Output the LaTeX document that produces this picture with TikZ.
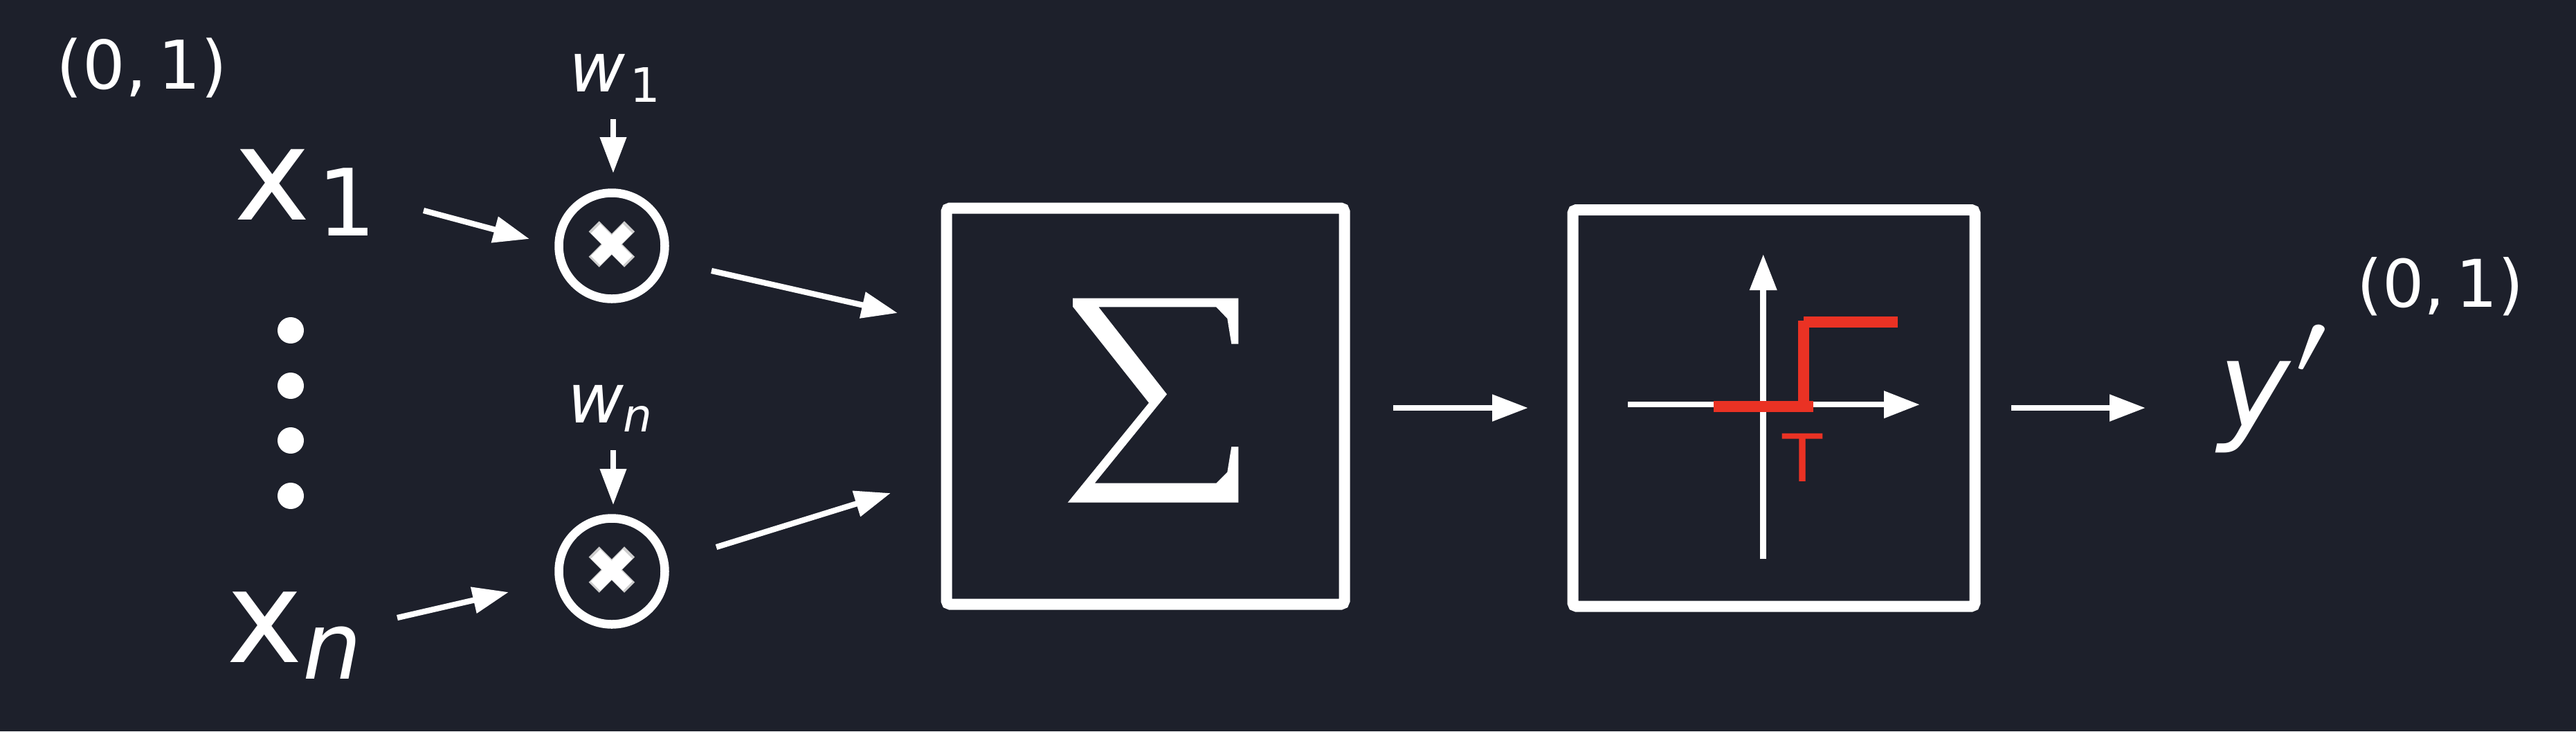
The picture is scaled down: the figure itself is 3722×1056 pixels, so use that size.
\documentclass[tikz,border=0pt]{standalone}
\usepackage{fontspec}
\setmainfont{DejaVu Sans}
\usepackage{graphicx}
\usetikzlibrary{arrows.meta}
\definecolor{bg}{RGB}{29,32,43}
\definecolor{stepred}{RGB}{234,50,36}
\definecolor{crossgray}{RGB}{205,205,205}
\begin{document}
\begin{tikzpicture}[x=0.2pt,y=-0.2pt,
  conn/.style={draw=white, line width=1.65pt, -{Triangle[length=10.4pt,width=7.4pt]}},
  axis/.style={draw=white, line width=1.7pt, -{Triangle[length=10.4pt,width=7.5pt]}},
  lbl/.style={text=white, inner sep=0pt, outer sep=0pt},
  mulnode/.style={circle, draw=white, line width=2.5pt, minimum size=30.6pt, inner sep=0pt},
  blockbox/.style={draw=white, line width=3.2pt, rounded corners=1pt, inner sep=0pt},
  redline/.style={draw=stepred, line width=3.15pt},
  dotnode/.style={circle, fill=white, minimum size=7.6pt, inner sep=0pt}
]
\fill[bg] (0,0) rectangle (3722,1056);
\useasboundingbox (0,0) rectangle (3722,1056);

% range labels
\node[lbl, anchor=base, font=\fontsize{19.4}{22}\selectfont] (rin) at (205,128) {(0,\,1)};
\node[lbl, anchor=base, font=\fontsize{19}{22}\selectfont] (rout) at (3526,443) {(0,\,1)};

% inputs
\node[lbl, anchor=base west, font=\fontsize{37.2}{40}\selectfont] (x1) at (338,317) {x};
\node[lbl, anchor=base west, font=\fontsize{26.8}{30}\selectfont] (x1s) at (458,340) {1};
\node[lbl, anchor=base west, font=\fontsize{37.2}{40}\selectfont] (xn) at (327,956) {x};
\node[lbl, anchor=base west, font=\fontsize{27}{30}\selectfont\itshape] (xns) at (437,980) {n};

% dots
\node[dotnode] (d1) at (420,477) {};
\node[dotnode] (d2) at (420,557) {};
\node[dotnode] (d3) at (420,636) {};
\node[dotnode] (d4) at (420,716) {};

% weights
\node[lbl, anchor=base west, font=\fontsize{19.8}{22}\selectfont\itshape] (w1) at (822,132) {w};
\node[lbl, anchor=base west, font=\fontsize{13.7}{15}\selectfont] (w1s) at (910,147) {1};
\node[lbl, anchor=base west, font=\fontsize{19.8}{22}\selectfont\itshape] (wn) at (820,610) {w};
\node[lbl, anchor=base west, font=\fontsize{13.2}{15}\selectfont\itshape] (wns) at (900,623) {n};

% multiplication nodes
\node[mulnode] (m1) at (884,355) {};
\node[mulnode] (m2) at (884,825) {};
\node[text=crossgray, inner sep=0pt, font=\fontsize{20}{20}\selectfont] (m1g) at (884,355) {✖};
\node[text=white, inner sep=0pt, font=\fontsize{18}{20}\selectfont] (m1c) at (884,355) {✖};
\node[text=crossgray, inner sep=0pt, font=\fontsize{20}{20}\selectfont] (m2g) at (884,825) {✖};
\node[text=white, inner sep=0pt, font=\fontsize{18}{20}\selectfont] (m2c) at (884,825) {✖};

% sum block
\node[blockbox, minimum width=115pt, minimum height=114.4pt] (sum) at (1655,586.5) {};
\fill[white] (1550,430.7) -- (1789.3,430.7) -- (1789.3,496.7) -- (1779.3,496.7)
  -- (1773.3,460) -- (1757.3,443.3) -- (1587.3,443.3) -- (1686,569.3)
  -- (1581.7,697.7) -- (1757.3,697.7) -- (1773.3,681.7) -- (1779.3,645)
  -- (1789.3,645) -- (1789.3,725.7) -- (1542.7,725.7) -- (1660,581.7)
  -- (1550,442.7) -- cycle;

% activation block
\node[blockbox, minimum width=116.2pt, minimum height=114.5pt] (act) at (2563,589.25) {};
\coordinate (vax0) at (2547.7,807);
\coordinate (vax1) at (2547.7,367);
\coordinate (hax0) at (2352,584.2);
\coordinate (hax1) at (2774,584.2);
\draw[axis] (vax0) -- (vax1);
\draw[axis] (hax0) -- (hax1);
\coordinate (s0) at (2476,587);
\coordinate (s1) at (2620,587);
\coordinate (s2) at (2606,595);
\coordinate (s3) at (2606,463);
\coordinate (s4) at (2606,465.3);
\coordinate (s5) at (2742,465.3);
\draw[redline] (s0) -- (s1);
\draw[redline] (s2) -- (s3);
\draw[redline] (s4) -- (s5);
\node[text=stepred, inner sep=0pt, anchor=base, font=\fontsize{19}{20}\selectfont] (thr) at (2604,695) {T};

% output
\node[lbl, anchor=base west, font=\fontsize{35}{40}\selectfont\itshape] (y) at (3205,617) {y};
\node[lbl] (yp) at (3339,504) {\resizebox*{9pt}{14pt}{$\prime$}};

% connectors
\coordinate (a1s) at (612,304); \coordinate (a1e) at (765,345);
\coordinate (a2s) at (574,892); \coordinate (a2e) at (735,855);
\coordinate (a3s) at (1028,391); \coordinate (a3e) at (1297,452);
\coordinate (a4s) at (1035,790); \coordinate (a4e) at (1287,712);
\coordinate (a5s) at (886,172); \coordinate (a5e) at (886,250);
\coordinate (a6s) at (886,650); \coordinate (a6e) at (886,729);
\coordinate (a7s) at (2013,589); \coordinate (a7e) at (2208,589);
\coordinate (a8s) at (2906,589); \coordinate (a8e) at (3100,589);
\draw[conn] (a1s) -- (a1e);
\draw[conn] (a2s) -- (a2e);
\draw[conn] (a3s) -- (a3e);
\draw[conn] (a4s) -- (a4e);
\draw[conn, line width=1.45pt] (a5s) -- (a5e);
\draw[conn, line width=1.45pt] (a6s) -- (a6e);
\draw[conn] (a7s) -- (a7e);
\draw[conn] (a8s) -- (a8e);
\end{tikzpicture}
\end{document}
